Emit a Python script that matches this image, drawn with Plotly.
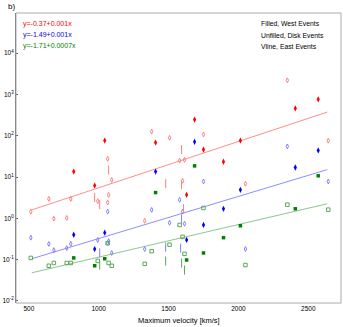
import plotly.graph_objects as go

# West events (filled markers)
west_x = [821, 971, 1043, 1407, 1629, 1686, 1750, 1893, 2014, 2407, 2571]
west_red = [13.5, 6.2, 76, 68, 3.7, 245, 46, 23.4, 76, 457, 760]
west_blue = [0.40, 0.18, 0.45, 13.5, 0.30, 71, 0.69, 1.7, 4.9, 17, 44]
west_green = [0.11, 0.071, 0.105, 4.2, 0.098, 18.6, 0.145, 0.34, 0.66, 1.7, 10.7]

# Disk events (unfilled markers)
disk_x = [514, 643, 679, 771, 800, 993, 1064, 1064, 1071, 1093,
          1329, 1379, 1507, 1579, 1600, 1614, 1750, 2050, 2350, 2643]
disk_red = [1.45, 2.95, 0.98, 1.02, 2.95, 2.6, 27.5, 2.4, 3.7, 8.5,
            0.87, 126, 89, 25, 8.1, 26, 107, 6.9, 2190, 76]
disk_blue = [0.34, 0.24, 0.17, 0.19, 0.24, 0.30, 1.45, 0.25, 0.28, 0.145,
             0.18, 1.6, 0.78, 2.8, 1.45, 0.74, 7.8, 0.18, 55, 7.8]
disk_green = [0.11, 0.071, 0.083, 0.083, 0.083, 0.093, 0.25, None, 0.083, 0.071,
              0.079, 0.16, 0.23, 0.69, 0.355, 0.138, 1.78, 0.074, 2.14, 1.62]

# East events (vertical line markers)
east_red_x = [971, 1007, 1071, 1479, 1593, 1593, 1607]
east_red = [3.2, 2.15, 14.8, 6.9, 46, 6.5, 1.7]
east_blue_x = [1007, 1479, 1586, 1593]
east_blue = [0.145, 0.20, 0.19, 0.96]
east_green_x = [1007, 1479, 1593, 1614]
east_green = [0.074, 0.092, 0.083, 0.056]

# log10 fits: intercept, slope
fit_x = [521, 2636]
fits = {
    'red': (-0.38, 0.00112),
    'blue': (-1.51, 0.00102),
    'green': (-1.73, 0.00079),
}
fit_labels = ['y=-0.37+0.001x', 'y=-1.49+0.001x', 'y=-1.71+0.0007x']
legend_lines = ['Filled, West Events', 'Unfilled, Disk Events', 'Vline, East Events']

y_ticks = [-2, -1, 0, 1, 2, 3, 4]
x_ticks = [500, 1000, 1500, 2000, 2500]

col = {'red': '#ff0000', 'blue': '#0000ff', 'green': '#008000'}
light = {'red': '#ff8080', 'blue': '#8080ff', 'green': '#5aa85a'}
line_col = {'red': 'rgba(255,0,0,0.45)', 'blue': 'rgba(0,0,255,0.45)',
            'green': 'rgba(0,128,0,0.45)'}

FONT = 'Liberation Sans, Arial, sans-serif'

fig = go.Figure()

for c in ['red', 'blue', 'green']:
    a, b = fits[c]
    fig.add_trace(go.Scatter(
        x=fit_x, y=[10 ** (a + b * v) for v in fit_x], mode='lines',
        line=dict(color=line_col[c], width=1), hoverinfo='skip'))

disk = {'red': disk_red, 'blue': disk_blue, 'green': disk_green}
for c in ['red', 'blue', 'green']:
    sym = 'square-open' if c == 'green' else 'diamond-tall-open'
    fig.add_trace(go.Scatter(
        x=disk_x, y=disk[c], mode='markers',
        marker=dict(symbol=sym, size=3.5 if c != 'green' else 3.5,
                    color=light[c], line=dict(width=1, color=light[c]))))

east = {'red': (east_red_x, east_red), 'blue': (east_blue_x, east_blue),
        'green': (east_green_x, east_green)}
for c in ['red', 'blue', 'green']:
    ex, ey = east[c]
    fig.add_trace(go.Scatter(
        x=ex, y=ey, mode='markers',
        marker=dict(symbol='line-ns', size=6.5,
                    line=dict(width=1, color=light[c]))))

west = {'red': west_red, 'blue': west_blue, 'green': west_green}
for c in ['red', 'blue', 'green']:
    sym = 'square' if c == 'green' else 'diamond-tall'
    fig.add_trace(go.Scatter(
        x=west_x, y=west[c], mode='markers',
        marker=dict(symbol=sym, size=4.5 if c != 'green' else 3.5,
                    color=col[c], line=dict(width=0))))

W, H = 343, 327
L, R, T, B = 13, 2, 13, 24


def paper(px, py):
    return (px - L) / (W - L - R), 1 - (py - T) / (H - T - B)


annotations = []
for i, (txt, c) in enumerate(zip(fit_labels, ['red', 'blue', 'green'])):
    x, y = paper(18, 24 + i * 11)
    annotations.append(dict(
        text=txt, x=x, y=y, xref='paper', yref='paper',
        showarrow=False, xanchor='left', yanchor='middle',
        font=dict(color=col[c], size=7, family=FONT)))
for i, txt in enumerate(legend_lines):
    x, y = paper(258, 24 + i * 11)
    annotations.append(dict(
        text=txt, x=x, y=y, xref='paper', yref='paper',
        showarrow=False, xanchor='left', yanchor='middle',
        font=dict(color='black', size=6.8, family=FONT)))
x, y = paper(3, 6)
annotations.append(dict(
    text='b)', x=x, y=y, xref='paper', yref='paper', showarrow=False,
    xanchor='left', yanchor='middle',
    font=dict(color='black', size=8, family=FONT)))
x, y = paper(177, 320)
annotations.append(dict(
    text='Maximum velocity [km/s]', x=x, y=y, xref='paper', yref='paper',
    showarrow=False, xanchor='center', yanchor='middle',
    font=dict(color='black', size=7.5, family=FONT)))

fig.update_layout(
    width=W, height=H,
    margin=dict(l=L, r=R, t=T, b=B),
    showlegend=False,
    plot_bgcolor='white', paper_bgcolor='white',
    font=dict(family=FONT, size=7, color='black'),
    annotations=annotations,
    shapes=[dict(type='rect', xref='paper', yref='paper', x0=0, x1=1, y0=0, y1=1,
                 line=dict(color='#aaaaaa', width=1), layer='above')],
    xaxis=dict(
        range=[408, 2734], tickvals=x_ticks, ticks='', tickfont=dict(size=6.5),
        showgrid=False, zeroline=False, showline=False),
    yaxis=dict(
        type='log', range=[-2.05, 4.97],
        tickvals=[10 ** p for p in y_ticks],
        ticktext=['10<sup>%d</sup>' % p for p in y_ticks],
        ticks='inside', ticklen=2, tickcolor='#555', tickfont=dict(size=6.5),
        showgrid=False, zeroline=False, showline=True, linecolor='#666',
        linewidth=1, mirror=False),
)

fig.write_html('out.html', config={'displayModeBar': False},
               post_script="document.body.style.margin='0';")
